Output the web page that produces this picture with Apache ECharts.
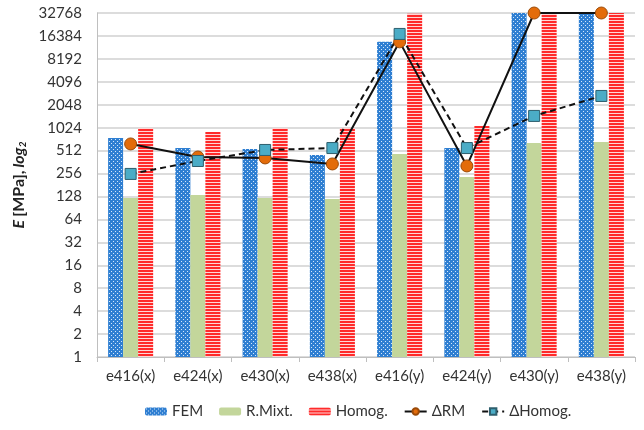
<!DOCTYPE html>
<html>
<head>
<meta charset="utf-8">
<script src="https://cdn.jsdelivr.net/npm/echarts@6/dist/echarts.min.js"></script>
<style>
  html, body { margin: 0; padding: 0; background: #fff; }
  #chart { width: 644px; height: 430px; }
</style>
</head>
<body>
<div id="chart"></div>
<script>
  // data
  let categories = ['e416(x)', 'e424(x)', 'e430(x)', 'e438(x)', 'e416(y)', 'e424(y)', 'e430(y)', 'e438(y)']
  let yTicks = [1, 2, 4, 8, 16, 32, 64, 128, 256, 512, 1024, 2048, 4096, 8192, 16384, 32768]
  let femData = [750, 555, 538, 449, 13700, 555, 32768, 32768]
  let rmixtData = [122, 134, 122, 119, 462, 231, 645, 665]
  let homogData = [1015, 900, 1015, 1015, 32000, 1077, 32768, 32768]
  let dRMData = [626, 422, 410, 342, 13700, 322, 32768, 32768]
  let dHomogData = [253, 374, 522, 553, 17400, 553, 1460, 2670]

  // fill patterns like the excel ones
  function makePattern (w, h, draw) {
    let c = document.createElement('canvas')
    c.width = w
    c.height = h
    draw(c.getContext('2d'))
    return c
  }
  let bluePattern = makePattern(4, 4, function (ctx) {
    ctx.fillStyle = '#2f7fd2'
    ctx.fillRect(0, 0, 4, 4)
    ctx.fillStyle = '#d6e8fa'
    ctx.fillRect(1, 1, 1, 1)
    ctx.fillRect(3, 3, 1, 1)
  })
  let redPattern = makePattern(4, 3, function (ctx) {
    ctx.fillStyle = '#ff2a2a'
    ctx.fillRect(0, 0, 4, 2)
    ctx.fillStyle = '#ffd6d6'
    ctx.fillRect(0, 2, 4, 1)
  })

  let font = 'Lato'
  let textColor = '#333'
  let myChart = echarts.init(document.getElementById('chart'))
  let option = {
    animation: false,
    textStyle: { fontFamily: font },
    grid: {
      left: 97,
      right: 9,
      top: 13,
      bottom: 73
    },
    legend: {
      left: 140,
      top: 399,
      itemWidth: 22,
      itemHeight: 8,
      itemGap: 16,
      textStyle: { fontFamily: font, fontSize: 15, color: textColor },
      data: ['FEM', 'R.Mixt.', 'Homog.', 'ΔRM', 'ΔHomog.']
    },
    xAxis: {
      type: 'category',
      data: categories,
      axisLine: { lineStyle: { color: '#bfbfbf', width: 1 } },
      axisTick: { show: true, length: 5, lineStyle: { color: '#bfbfbf' } },
      axisLabel: { color: textColor, fontSize: 15, margin: 12, fontFamily: font }
    },
    yAxis: {
      type: 'log',
      logBase: 2,
      min: yTicks[0],
      max: yTicks[yTicks.length - 1],
      interval: 1,
      splitNumber: 15,
      name: '{e|E} {b|[MPa],} {e|log}{s|2}',
      nameLocation: 'middle',
      nameRotate: 90,
      nameGap: 64,
      nameTextStyle: {
        rich: {
          e: { fontFamily: font, fontSize: 16, fontWeight: 'bold', fontStyle: 'italic', color: '#222' },
          b: { fontFamily: font, fontSize: 16, fontWeight: 'bold', color: '#222' },
          s: { fontFamily: font, fontSize: 10, fontWeight: 'bold', fontStyle: 'italic', color: '#222', padding: [7, 0, 0, 0] }
        }
      },
      axisLine: { show: true, lineStyle: { color: '#bfbfbf' } },
      axisTick: { show: false },
      splitLine: { lineStyle: { color: '#d0d0d0', width: 1.5 } },
      axisLabel: {
        color: textColor,
        fontSize: 15,
        margin: 15,
        fontFamily: font,
        formatter: function (v) {
          return String(Math.round(v))
        }
      }
    },
    series: [
      {
        name: 'FEM',
        type: 'bar',
        barGap: '0%',
        barCategoryGap: '33%',
        itemStyle: { color: { image: bluePattern, repeat: 'repeat' } },
        data: femData
      },
      {
        name: 'R.Mixt.',
        type: 'bar',
        barGap: '0%',
        barCategoryGap: '33%',
        itemStyle: { color: '#c3d69b' },
        data: rmixtData
      },
      {
        name: 'Homog.',
        type: 'bar',
        barGap: '0%',
        barCategoryGap: '33%',
        itemStyle: { color: { image: redPattern, repeat: 'repeat' } },
        data: homogData
      },
      {
        name: 'ΔRM',
        type: 'line',
        symbol: 'circle',
        symbolSize: 12,
        lineStyle: { color: '#111', width: 2 },
        itemStyle: { color: '#e36c0a', borderColor: '#9a4a08', borderWidth: 1 },
        data: dRMData
      },
      {
        name: 'ΔHomog.',
        type: 'line',
        symbol: 'rect',
        symbolSize: 11,
        lineStyle: { color: '#111', width: 2, type: [6, 4] },
        itemStyle: { color: '#4bacc6', borderColor: '#2e5f6e', borderWidth: 1 },
        data: dHomogData
      }
    ]
  }
  myChart.setOption(option)
</script>
</body>
</html>
